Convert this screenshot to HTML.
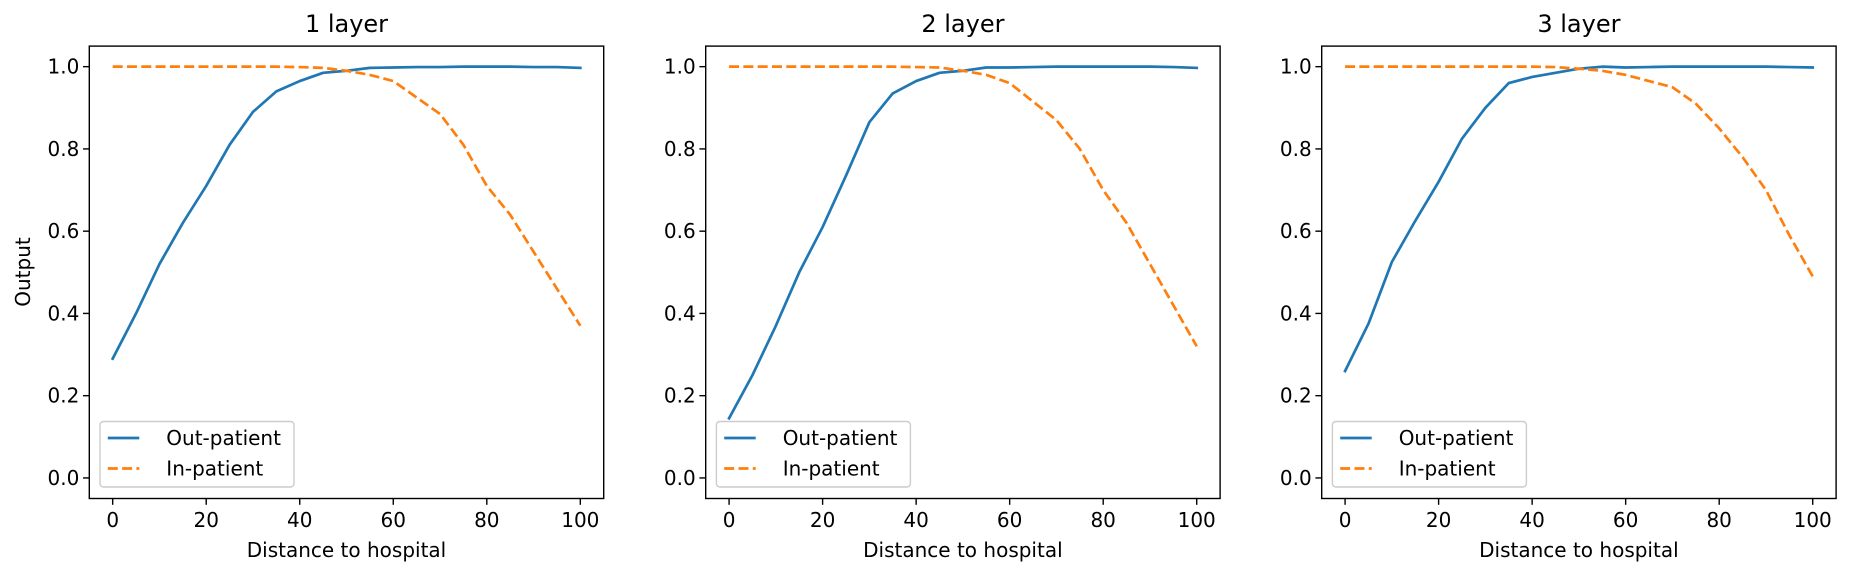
<!DOCTYPE html>
<html><head><meta charset="utf-8">
<style>
html,body{margin:0;padding:0;background:#fff;}
svg{display:block;font-family:"DejaVu Sans","Liberation Sans",sans-serif;}
</style></head>
<body>
<svg id="chart" width="1849" height="577" viewBox="0 0 1849 577" xmlns="http://www.w3.org/2000/svg"></svg>
<script>
const distances = [0,5,10,15,20,25,30,35,40,45,50,55,60,65,70,75,80,85,90,95,100];
const panelTitles = ["1 layer","2 layer","3 layer"];
const outPatient1 = [0.29,0.40,0.52,0.62,0.71,0.81,0.89,0.94,0.965,0.985,0.99,0.997,0.998,0.999,0.999,1,1,1,0.999,0.999,0.997];
const inPatient1  = [1,1,1,1,1,1,1,1,0.999,0.997,0.99,0.98,0.965,0.925,0.885,0.81,0.71,0.64,0.55,0.46,0.37];
const outPatient2 = [0.145,0.25,0.37,0.50,0.61,0.735,0.865,0.935,0.965,0.985,0.99,0.998,0.998,0.999,1,1,1,1,1,0.999,0.997];
const inPatient2  = [1,1,1,1,1,1,1,1,0.999,0.998,0.99,0.98,0.96,0.915,0.87,0.80,0.70,0.62,0.52,0.42,0.32];
const outPatient3 = [0.26,0.375,0.525,0.625,0.72,0.825,0.90,0.96,0.975,0.985,0.995,1.0,0.998,0.999,1,1,1,1,1,0.999,0.998];
const inPatient3  = [1,1,1,1,1,1,1,1,1,0.999,0.995,0.99,0.98,0.965,0.95,0.91,0.85,0.78,0.70,0.59,0.49];
const xTicks = [0,20,40,60,80,100];
const yTicks = [0.0,0.2,0.4,0.6,0.8,1.0];
const yTickLabels = ["0.0","0.2","0.4","0.6","0.8","1.0"];

const NS="http://www.w3.org/2000/svg";
const svg=document.getElementById('chart');
function mk(tag,attrs,parent){const e=document.createElementNS(NS,tag);for(const k in attrs)e.setAttribute(k,attrs[k]);(parent||svg).appendChild(e);return e;}

const outs=[outPatient1,outPatient2,outPatient3];
const ins=[inPatient1,inPatient2,inPatient3];
const lefts=[89.3,705.7,1321.7];
const W=514.4, TOP=46.1, BOT=498.5;
const BLUE="#1f77b4", ORANGE="#ff7f0e";

for(let p=0;p<3;p++){
  const L=lefts[p];
  const xs=v=>L+(v+5)/110*W;
  const ys=v=>BOT-(v+0.05)/1.1*(BOT-TOP);
  const g=mk('g',{});
  
  

  const outPts=distances.map((d,i)=>xs(d).toFixed(2)+','+ys(outs[p][i]).toFixed(2)).join(' ');
  const inPts=distances.map((d,i)=>xs(d).toFixed(2)+','+ys(ins[p][i]).toFixed(2)).join(' ');
  const l1=mk('polyline',{points:outPts,fill:'none',stroke:BLUE,'stroke-width':2.7,'stroke-linejoin':'round','stroke-linecap':'square'},g);
  
  
  const l2=mk('polyline',{points:inPts,fill:'none',stroke:ORANGE,'stroke-width':2.7,'stroke-dasharray':'10,4.3','stroke-linejoin':'round'},g);
  
  

  const fr=mk('rect',{x:L,y:TOP,width:W,height:BOT-TOP,fill:'none',stroke:'#000','stroke-width':1.4},g);
  
  

  xTicks.forEach(t=>{
    const x=xs(t);
    mk('line',{x1:x,y1:BOT,x2:x,y2:BOT+6.3,stroke:'#000','stroke-width':1.4},g);
    const tx=mk('text',{x:x,y:527,'font-size':20,'text-anchor':'middle',fill:'#000'},g);
    tx.textContent=String(t);
    
    
  });
  yTicks.forEach((t,i)=>{
    const y=ys(t);
    mk('line',{x1:L-6.3,y1:y,x2:L,y2:y,stroke:'#000','stroke-width':1.4},g);
    const tx=mk('text',{x:L-10,y:y+7,'font-size':20,'text-anchor':'end',fill:'#000'},g);
    tx.textContent=yTickLabels[i];
    
    
  });

  const xl=mk('text',{x:L+W/2,y:557,'font-size':20,'text-anchor':'middle',fill:'#000'},g);
  xl.textContent='Distance to hospital';
  
  

  const tt=mk('text',{x:L+W/2,y:32,'font-size':24,'text-anchor':'middle',fill:'#000'},g);
  tt.textContent=panelTitles[p];
  
  

  const lg=mk('g',{},g);
  
  
  mk('rect',{x:L+10.7,y:421.5,width:194,height:65.5,rx:3.5,fill:'#fff','fill-opacity':0.8,stroke:'#cccccc','stroke-width':1.4},lg);
  mk('line',{x1:L+18.5,y1:438,x2:L+50,y2:438,stroke:BLUE,'stroke-width':2.7},lg);
  mk('line',{x1:L+18.5,y1:468.5,x2:L+50,y2:468.5,stroke:ORANGE,'stroke-width':2.7,'stroke-dasharray':'10,4.3'},lg);
  const e1=mk('text',{x:L+77,y:445,'font-size':20,fill:'#000'},lg);
  e1.textContent='Out-patient';
  
  
  const e2=mk('text',{x:L+77,y:475.5,'font-size':20,fill:'#000'},lg);
  e2.textContent='In-patient';
  
  
}
const yl=mk('text',{x:0,y:0,'font-size':20,'text-anchor':'middle',fill:'#000',transform:'translate(30,272) rotate(-90)'});
yl.textContent='Output';


</script>
</body></html>
